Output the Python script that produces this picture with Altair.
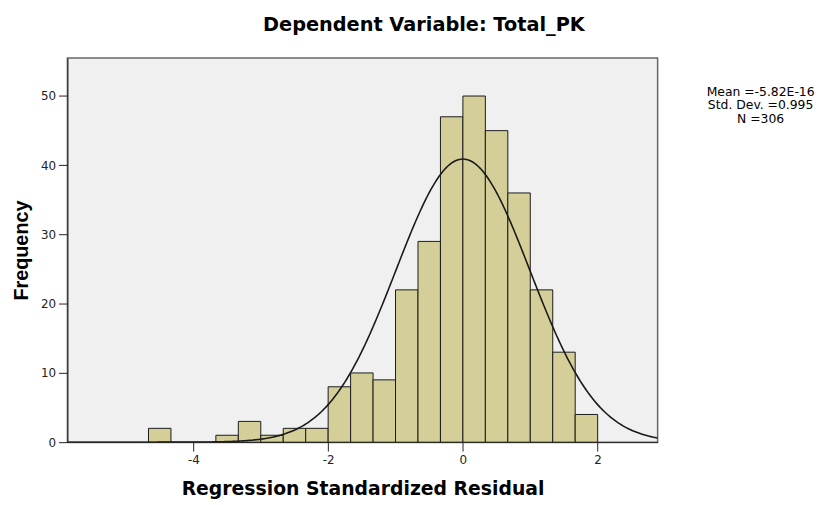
import altair as alt
import pandas as pd

# Histogram bins (start of each bin, bin width 1/3) and frequencies
bin_start = [-4.6667, -3.6667, -3.3333, -3.0, -2.6667, -2.3333, -2.0, -1.6667, -1.3333,
             -1.0, -0.6667, -0.3333, 0.0, 0.3333, 0.6667, 1.0, 1.3333, 1.6667]
counts = [2, 1, 3, 1, 2, 2, 8, 10, 9, 22, 29, 47, 50, 45, 36, 22, 13, 4]
bin_width = 1 / 3

# Summary statistics shown on the chart
mean_val = -5.82e-16
sd_val = 0.995
n_val = 306
stats_lines = ["Mean =-5.82E-16", "Std. Dev. =0.995", "N =306"]

x_ticks = [-4, -2, 0, 2]
y_ticks = [0, 10, 20, 30, 40, 50]
x_domain = [-5.87, 2.89]
y_domain = [0, 55.5]

FONT = "DejaVu Sans"
FONT2 = "Liberation Sans"

df = pd.DataFrame({"x1": bin_start, "count": counts})
df["x2"] = df["x1"] + bin_width

x_scale = alt.Scale(domain=x_domain, nice=False, zero=False)
y_scale = alt.Scale(domain=y_domain, nice=False)

bars = alt.Chart(df).mark_rect(fill="#d4cf98", stroke="#1a1a1a", strokeWidth=1).encode(
    x=alt.X("x1:Q", scale=x_scale,
            axis=alt.Axis(values=x_ticks, title="Regression Standardized Residual",
                          labelExpr="'' + datum.value",
                          titleFontSize=19, titleFont=FONT, titleFontWeight="bold",
                          titleColor="#000", titlePadding=14,
                          labelFont=FONT, labelFontSize=12, labelColor="#222",
                          labelPadding=4, tickColor="#222", tickSize=9,
                          domainColor="#222", grid=False)),
    x2="x2:Q",
    y=alt.Y("count:Q", scale=y_scale,
            axis=alt.Axis(values=y_ticks, title="Frequency",
                          titleFontSize=20, titleFont=FONT2, titleFontWeight="bold",
                          titleColor="#000", titlePadding=9,
                          labelFont=FONT, labelFontSize=12, labelColor="#222",
                          labelPadding=3, tickColor="#222", tickSize=9,
                          domainColor="#222", grid=False)),
    y2=alt.datum(0),
)

curve = alt.Chart(alt.sequence(-5.87, 2.9, 0.02, as_="x")).transform_calculate(
    y=f"{n_val} * {bin_width} * exp(-0.5 * pow((datum.x - ({mean_val})) / {sd_val}, 2)) / ({sd_val} * sqrt(2 * PI))"
).mark_line(color="#1a1a1a", strokeWidth=1.6, clip=True).encode(
    x=alt.X("x:Q", scale=x_scale),
    y=alt.Y("y:Q", scale=y_scale),
)

stats = alt.Chart(pd.DataFrame({"t": ["\n".join(stats_lines)]})).mark_text(
    lineBreak="\n", align="center", baseline="top", font=FONT, fontSize=12.5,
    lineHeight=14, color="#000"
).encode(
    x=alt.value(700), y=alt.value(28), text="t:N"
)

chart = alt.layer(bars, curve, stats).properties(
    width=596, height=388,
    background="white",
    autosize=alt.AutoSizeParams(type="none"),
    title=alt.TitleParams("Dependent Variable: Total_PK", fontSize=19.5, font=FONT,
                          fontWeight="bold", color="#000", dx=62, offset=23),
    padding={"left": 60, "top": 48, "right": 166, "bottom": 61},
).configure_view(
    fill="#f0f0f0", stroke="#666666", strokeWidth=1.5
)

chart.save("out.html", embed_options={"renderer": "svg", "actions": False})
